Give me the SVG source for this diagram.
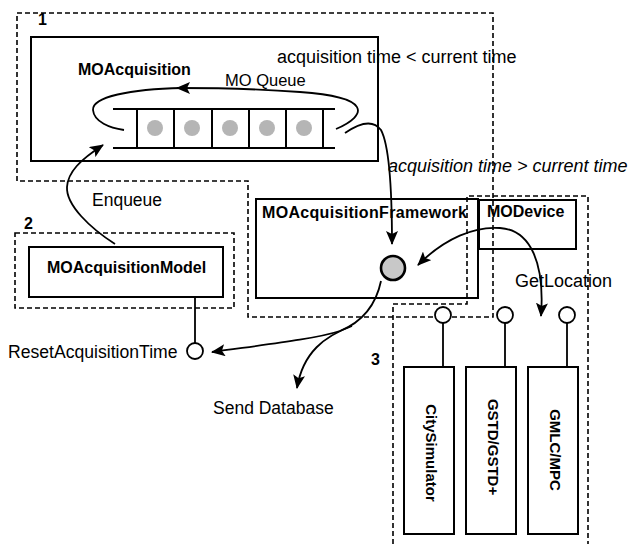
<svg xmlns="http://www.w3.org/2000/svg" width="631" height="544" viewBox="0 0 631 544">
<style>
.t{font-family:"Liberation Sans",Arial,sans-serif;fill:#000}
.b{font-weight:bold;font-size:16px}
.r{font-size:18px}
.box{fill:none;stroke:#000;stroke-width:2}
.dash{fill:none;stroke:#000;stroke-width:1.6;stroke-dasharray:5 3}
.ln{fill:none;stroke:#000;stroke-width:1.8}
.lol{fill:#fff;stroke:#000;stroke-width:1.8}
.dot{fill:#b5b5b5}
</style>
<defs>
<marker id="ah" viewBox="0 0 14 12" refX="13" refY="6" markerWidth="14" markerHeight="12" markerUnits="userSpaceOnUse" orient="auto-start-reverse">
<path d="M0,0 L14,6 L0,12 L3,6 Z" fill="#000"/>
</marker>
</defs>
<rect width="631" height="544" fill="#fff"/>

<g id="group1">
<path class="dash" d="M17,13 H493 V317 H248 V181 H17 Z"/>
<text class="t b" x="38" y="25">1</text>
</g>
<g id="group2">
<rect class="dash" x="15" y="233" width="219" height="75"/>
<text class="t b" x="24" y="229">2</text>
</g>
<g id="group3">
<path class="dash" d="M393,544 V304 H467 V196 H588 V544"/>
<text class="t b" x="371" y="365">3</text>
</g>

<g id="MOAcquisition">
<rect class="box" x="31" y="37" width="347" height="124"/>
<text class="t b" x="78" y="75">MOAcquisition</text>
<text class="t" x="225" y="86" font-size="16.5">MO Queue</text>
<g id="queue">
<path class="box" d="M113,109 H335 M113,148 H335 M137,109 V148 M174,109 V148 M212,109 V148 M249,109 V148 M286,109 V148 M323,109 V148"/>
<circle class="dot" cx="155" cy="128" r="8"/>
<circle class="dot" cx="192" cy="128" r="8"/>
<circle class="dot" cx="230" cy="128" r="8"/>
<circle class="dot" cx="267" cy="128" r="8"/>
<circle class="dot" cx="304" cy="128" r="8"/>
</g>
</g>

<g id="MOAcquisitionModel">
<rect class="box" x="29" y="247" width="194" height="50"/>
<text class="t b" x="47" y="273">MOAcquisitionModel</text>
</g>

<g id="MOAcquisitionFramework">
<rect class="box" x="256" y="199" width="222" height="99"/>
<text class="t b" x="262" y="218" textLength="205">MOAcquisitionFramework</text>
<circle cx="393" cy="268" r="12" fill="#c8c8c8" stroke="#000" stroke-width="2.6"/>
</g>

<g id="MODevice">
<rect class="box" x="479" y="200" width="97" height="49"/>
<text class="t b" x="487" y="217">MODevice</text>
</g>

<g id="CitySimulator">
<rect class="box" x="404" y="367" width="50" height="167"/>
<text class="t" font-weight="bold" font-size="15" transform="translate(431,453) rotate(90)" text-anchor="middle" dominant-baseline="central">CitySimulator</text>
</g>
<g id="GSTD">
<rect class="box" x="466" y="367" width="50" height="167"/>
<text class="t" font-weight="bold" font-size="15" transform="translate(493,447) rotate(90)" text-anchor="middle" dominant-baseline="central">GSTD/GSTD+</text>
</g>
<g id="GMLC">
<rect class="box" x="528" y="367" width="50" height="167"/>
<text class="t" font-weight="bold" font-size="15" transform="translate(555,450) rotate(90)" text-anchor="middle" dominant-baseline="central">GMLC/MPC</text>
</g>

<g id="ResetAcquisitionTime">
<circle class="lol" cx="195" cy="351" r="8"/>
<text class="t" x="8" y="358" font-size="17.6">ResetAcquisitionTime</text>
</g>

<g id="connectors">
<path class="ln" d="M336,129 C368,115 372,97 300,92 C260,89 215,88 177,88" marker-end="url(#ah)"/>
<path class="ln" d="M182,88 C130,89 92,97 93,110 C94,122 110,128 124,130"/>
<path class="ln" d="M345,133 C358,124 372,118 381,130 C389,145 392,190 392,244" marker-end="url(#ah)"/>
<path class="ln" d="M418,265 C445,238 475,226 500,228 C530,230 545,262 541,316" marker-start="url(#ah)" marker-end="url(#ah)"/>
<path class="ln" d="M381,281 C376,305 362,322 340,331 C315,339 270,344 212,352" marker-end="url(#ah)"/>
<path class="ln" d="M352,326 C325,336 303,352 297,388" marker-end="url(#ah)"/>
<path class="ln" d="M115,244 C90,228 66,205 67,187 C68,172 80,160 103,145" marker-end="url(#ah)"/>
<path class="ln" d="M195,297 V343"/>
<path class="ln" d="M443,323 V367 M505,323 V367 M567,323 V367"/>
<circle class="lol" cx="443" cy="315" r="8"/>
<circle class="lol" cx="505" cy="315" r="8"/>
<circle class="lol" cx="567" cy="315" r="8"/>
</g>

<g id="labels">
<text class="t r" x="277" y="63">acquisition time &lt; current time</text>
<text class="t r" x="388" y="172" font-style="italic">acquisition time &gt; current time</text>
<text class="t" x="92" y="206" font-size="17.5">Enqueue</text>
<text class="t r" x="515" y="287">GetLocation</text>
<text class="t" x="213" y="414" font-size="17.5">Send Database</text>
</g>
</svg>
